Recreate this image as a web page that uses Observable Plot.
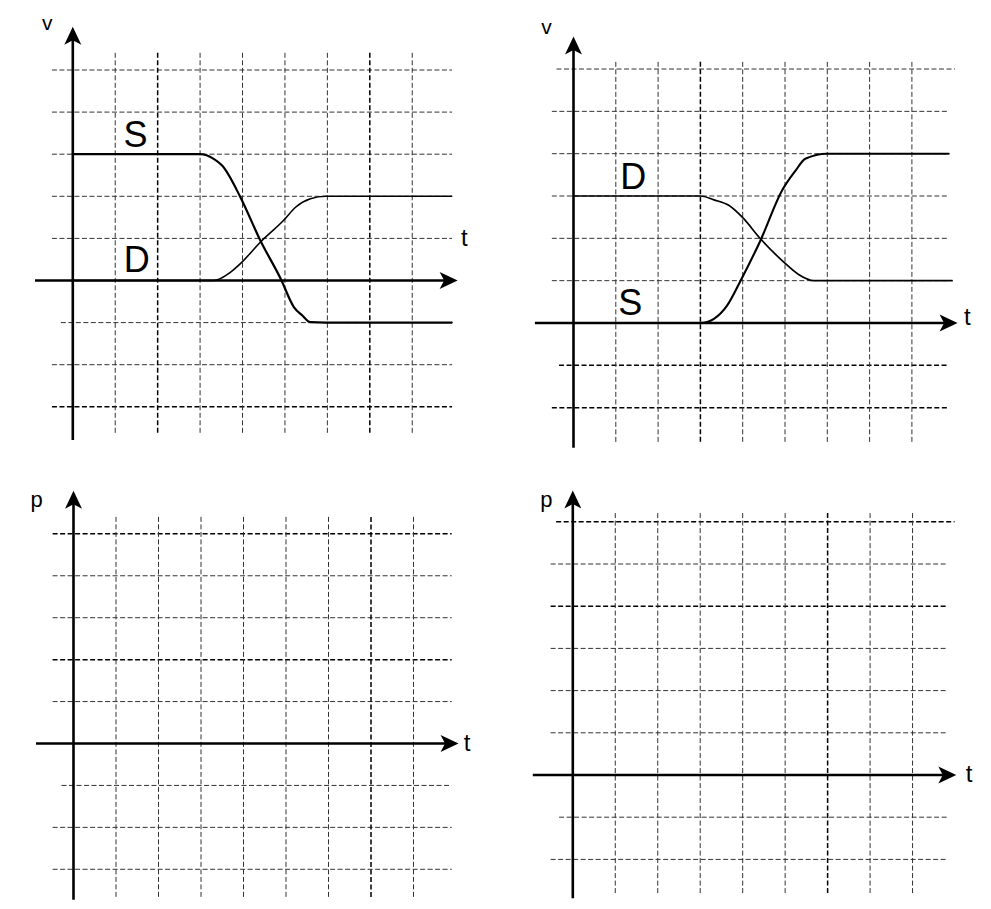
<!DOCTYPE html>
<html><head><meta charset="utf-8">
<script src="https://cdn.jsdelivr.net/npm/d3@7"></script>
<script src="https://cdn.jsdelivr.net/npm/@observablehq/plot@0.6"></script>
<style>
html,body{margin:0;padding:0;background:#fff;}
#page{position:relative;width:991px;height:909px;overflow:hidden;background:#fff;}
#page > div{position:absolute;}
</style></head><body><div id="page"></div>
<script>
// ---------------- data ----------------
const gridTimes = [1, 2, 3, 4, 5, 6, 7, 8];
const levelsTopLeft = [5, 4, 3, 2, 1, -1, -2, -3];
const levelsTopRight = [6, 5, 4, 3, 2, 1, -1, -2];
const levelsBottomLeft = [5, 4, 3, 2, 1, -1, -2, -3];
const levelsBottomRight = [6, 5, 4, 3, 2, 1, -1, -2];

// top-left panel: S falls from 3 to -1, D rises from 0 to 2
const tlS_t = [0, 3.0, 3.32, 3.52, 3.95, 4.42, 4.90, 5.21, 5.41, 5.60, 5.96, 8.93];
const tlS_v = [3, 3, 2.89, 2.73, 1.98, 0.95, 0.04, -0.63, -0.83, -0.99, -1.0, -1.0];
const tlD_t = [0, 3.32, 3.72, 3.95, 4.42, 4.97, 5.25, 5.60, 5.96, 8.93];
const tlD_v = [0, 0, 0.2, 0.4, 0.91, 1.43, 1.74, 1.94, 2.0, 2.0];

// top-right panel: D falls from 3 to 1, S rises from 0 to 4
const trD_t = [0, 3.0, 3.32, 3.67, 3.99, 4.42, 4.97, 5.33, 5.68, 8.95];
const trD_v = [3, 3, 2.91, 2.78, 2.5, 1.99, 1.44, 1.14, 1.0, 1.0];
const trS_t = [0, 3.0, 3.32, 3.63, 3.95, 4.42, 4.93, 5.25, 5.48, 5.99, 8.87];
const trS_v = [0, 0, 0.1, 0.41, 1.0, 1.95, 3.13, 3.6, 3.88, 4.0, 4.0];

// ---------------- layout ----------------
const FONT = "'Liberation Sans', Arial, Helvetica, sans-serif";
const ARROW_L = 18, ARROW_W = 8.5, ARROW_N = 4.5;
const arrowUp = {draw(c) { c.moveTo(0, 0); c.lineTo(ARROW_W, ARROW_L); c.lineTo(0, ARROW_L - ARROW_N); c.lineTo(-ARROW_W, ARROW_L); c.closePath(); }};
const arrowRight = {draw(c) { c.moveTo(0, 0); c.lineTo(-ARROW_L, -ARROW_W); c.lineTo(-(ARROW_L - ARROW_N), 0); c.lineTo(-ARROW_L, ARROW_W); c.closePath(); }};

const toRows = (ts, vs) => ts.map((t, i) => ({t, v: vs[i]}));

const panels = [
  {left: 0, top: 0, w: 495, h: 455, x0: 72.3, ux: 42.43, y0: 280, uy: 42.1,
   levels: levelsTopLeft, hx: [-0.48, 8.95], hNeg1: -0.27, topLevel: null, hTop: null,
   vy: [-3.63, 5.42], xAxis: [-0.88, 9.07], yAxis: [-3.8, 6.03],
   darkX: [2, 7], darkY: [-3],
   curves: [{t: tlS_t, v: tlS_v, w: 2.2}, {t: tlD_t, v: tlD_v, w: 1.6}],
   labels: [
     {text: "v", t: -0.6, v: 5.94, size: 21},
     {text: "t", t: 9.23, v: 0.81, size: 24},
     {text: "S", t: 1.48, v: 3.17, size: 36},
     {text: "D", t: 1.51, v: 0.2, size: 36}]},
  {left: 495, top: 0, w: 496, h: 455, x0: 573, ux: 42.3, y0: 322.5, uy: 42.33,
   levels: levelsTopRight, hx: [-0.5, 8.87], hNeg1: -0.33, topLevel: 6, hTop: [-0.39, 9.03],
   vy: [-2.82, 6.2], xAxis: [-0.9, 9.08], yAxis: [-2.96, 6.77],
   darkX: [3], darkY: [-1, -2],
   curves: [{t: trD_t, v: trD_v, w: 1.7}, {t: trS_t, v: trS_v, w: 2.1}],
   labels: [
     {text: "v", t: -0.64, v: 6.82, size: 21},
     {text: "t", t: 9.31, v: -0.04, size: 24},
     {text: "D", t: 1.41, v: 3.17, size: 36},
     {text: "S", t: 1.34, v: 0.18, size: 36}]},
  {left: 0, top: 455, w: 495, h: 454, x0: 73, ux: 42.5, y0: 743, uy: 41.93,
   levels: levelsBottomLeft, hx: [-0.48, 8.91], hNeg1: -0.27, topLevel: null, hTop: null,
   vy: [-3.67, 5.44], xAxis: [-0.87, 9.06], yAxis: [-3.74, 6.03],
   darkX: [7], darkY: [5, 2],
   curves: [],
   labels: [
     {text: "p", t: -0.87, v: 5.63, size: 22},
     {text: "t", t: 9.26, v: -0.19, size: 24}]},
  {left: 495, top: 455, w: 496, h: 454, x0: 572.3, ux: 42.47, y0: 774.5, uy: 42.2,
   levels: levelsBottomRight, hx: [-0.51, 8.85], hNeg1: -0.31, topLevel: 6, hTop: [-0.38, 9.0],
   vy: [-2.81, 6.23], xAxis: [-0.93, 9.03], yAxis: [-2.93, 6.74],
   darkX: [6], darkY: [6, 4],
   curves: [],
   labels: [
     {text: "p", t: -0.62, v: 6.34, size: 22},
     {text: "t", t: 9.33, v: -0.17, size: 24}]}
];

const page = document.getElementById("page");

for (const p of panels) {
  const hx1 = d => d === -1 ? p.hNeg1 : (d === p.topLevel ? p.hTop[0] : p.hx[0]);
  const hx2 = d => d === p.topLevel ? p.hTop[1] : p.hx[1];
  const gridStyle = {stroke: "#333", strokeWidth: 1, strokeDasharray: "5,2.5"};
  const darkStyle = {stroke: "#000", strokeWidth: 1.5, strokeDasharray: "5,2.5"};
  const normX = gridTimes.filter(d => !p.darkX.includes(d));
  const boldX = gridTimes.filter(d => p.darkX.includes(d));
  const normY = p.levels.filter(d => !p.darkY.includes(d));
  const boldY = p.levels.filter(d => p.darkY.includes(d));

  const marks = [
    Plot.ruleY(normY, {y: d => d, x1: hx1, x2: hx2, ...gridStyle}),
    Plot.ruleY(boldY, {y: d => d, x1: hx1, x2: hx2, ...darkStyle}),
    Plot.ruleX(normX, {x: d => d, y1: () => p.vy[0], y2: () => p.vy[1], ...gridStyle}),
    Plot.ruleX(boldX, {x: d => d, y1: () => p.vy[0], y2: () => p.vy[1], ...darkStyle}),
    ...p.curves.map(c => Plot.line(toRows(c.t, c.v), {x: "t", y: "v", curve: "monotone-x", stroke: "black", strokeWidth: c.w, strokeLinejoin: "round"})),
    Plot.ruleY([0], {y: d => d, x1: () => p.xAxis[0], x2: () => p.xAxis[1] - 0.25, stroke: "black", strokeWidth: 2.6}),
    Plot.ruleX([0], {x: d => d, y1: () => p.yAxis[0], y2: () => p.yAxis[1] - 0.25, stroke: "black", strokeWidth: 2.6}),
    Plot.dot([{t: p.xAxis[1], v: 0}], {x: "t", y: "v", symbol: arrowRight, r: 6, fill: "black", stroke: "none"}),
    Plot.dot([{t: 0, v: p.yAxis[1]}], {x: "t", y: "v", symbol: arrowUp, r: 6, fill: "black", stroke: "none"}),
    ...p.labels.map(l => Plot.text([l], {x: "t", y: "v", text: "text", fontSize: l.size, fontFamily: FONT,
      textAnchor: "middle", lineAnchor: "bottom", fill: "black"}))
  ];

  const chart = Plot.plot({
    width: p.w, height: p.h, margin: 0,
    x: {domain: [0, 1], range: [p.x0 - p.left, p.x0 - p.left + p.ux], axis: null},
    y: {domain: [0, 1], range: [p.y0 - p.top, p.y0 - p.top - p.uy], axis: null},
    style: {background: "white", overflow: "visible"},
    marks
  });
  const holder = document.createElement("div");
  holder.style.left = p.left + "px";
  holder.style.top = p.top + "px";
  holder.style.width = p.w + "px";
  holder.style.height = p.h + "px";
  holder.appendChild(chart);
  page.appendChild(holder);
}
</script></body></html>
